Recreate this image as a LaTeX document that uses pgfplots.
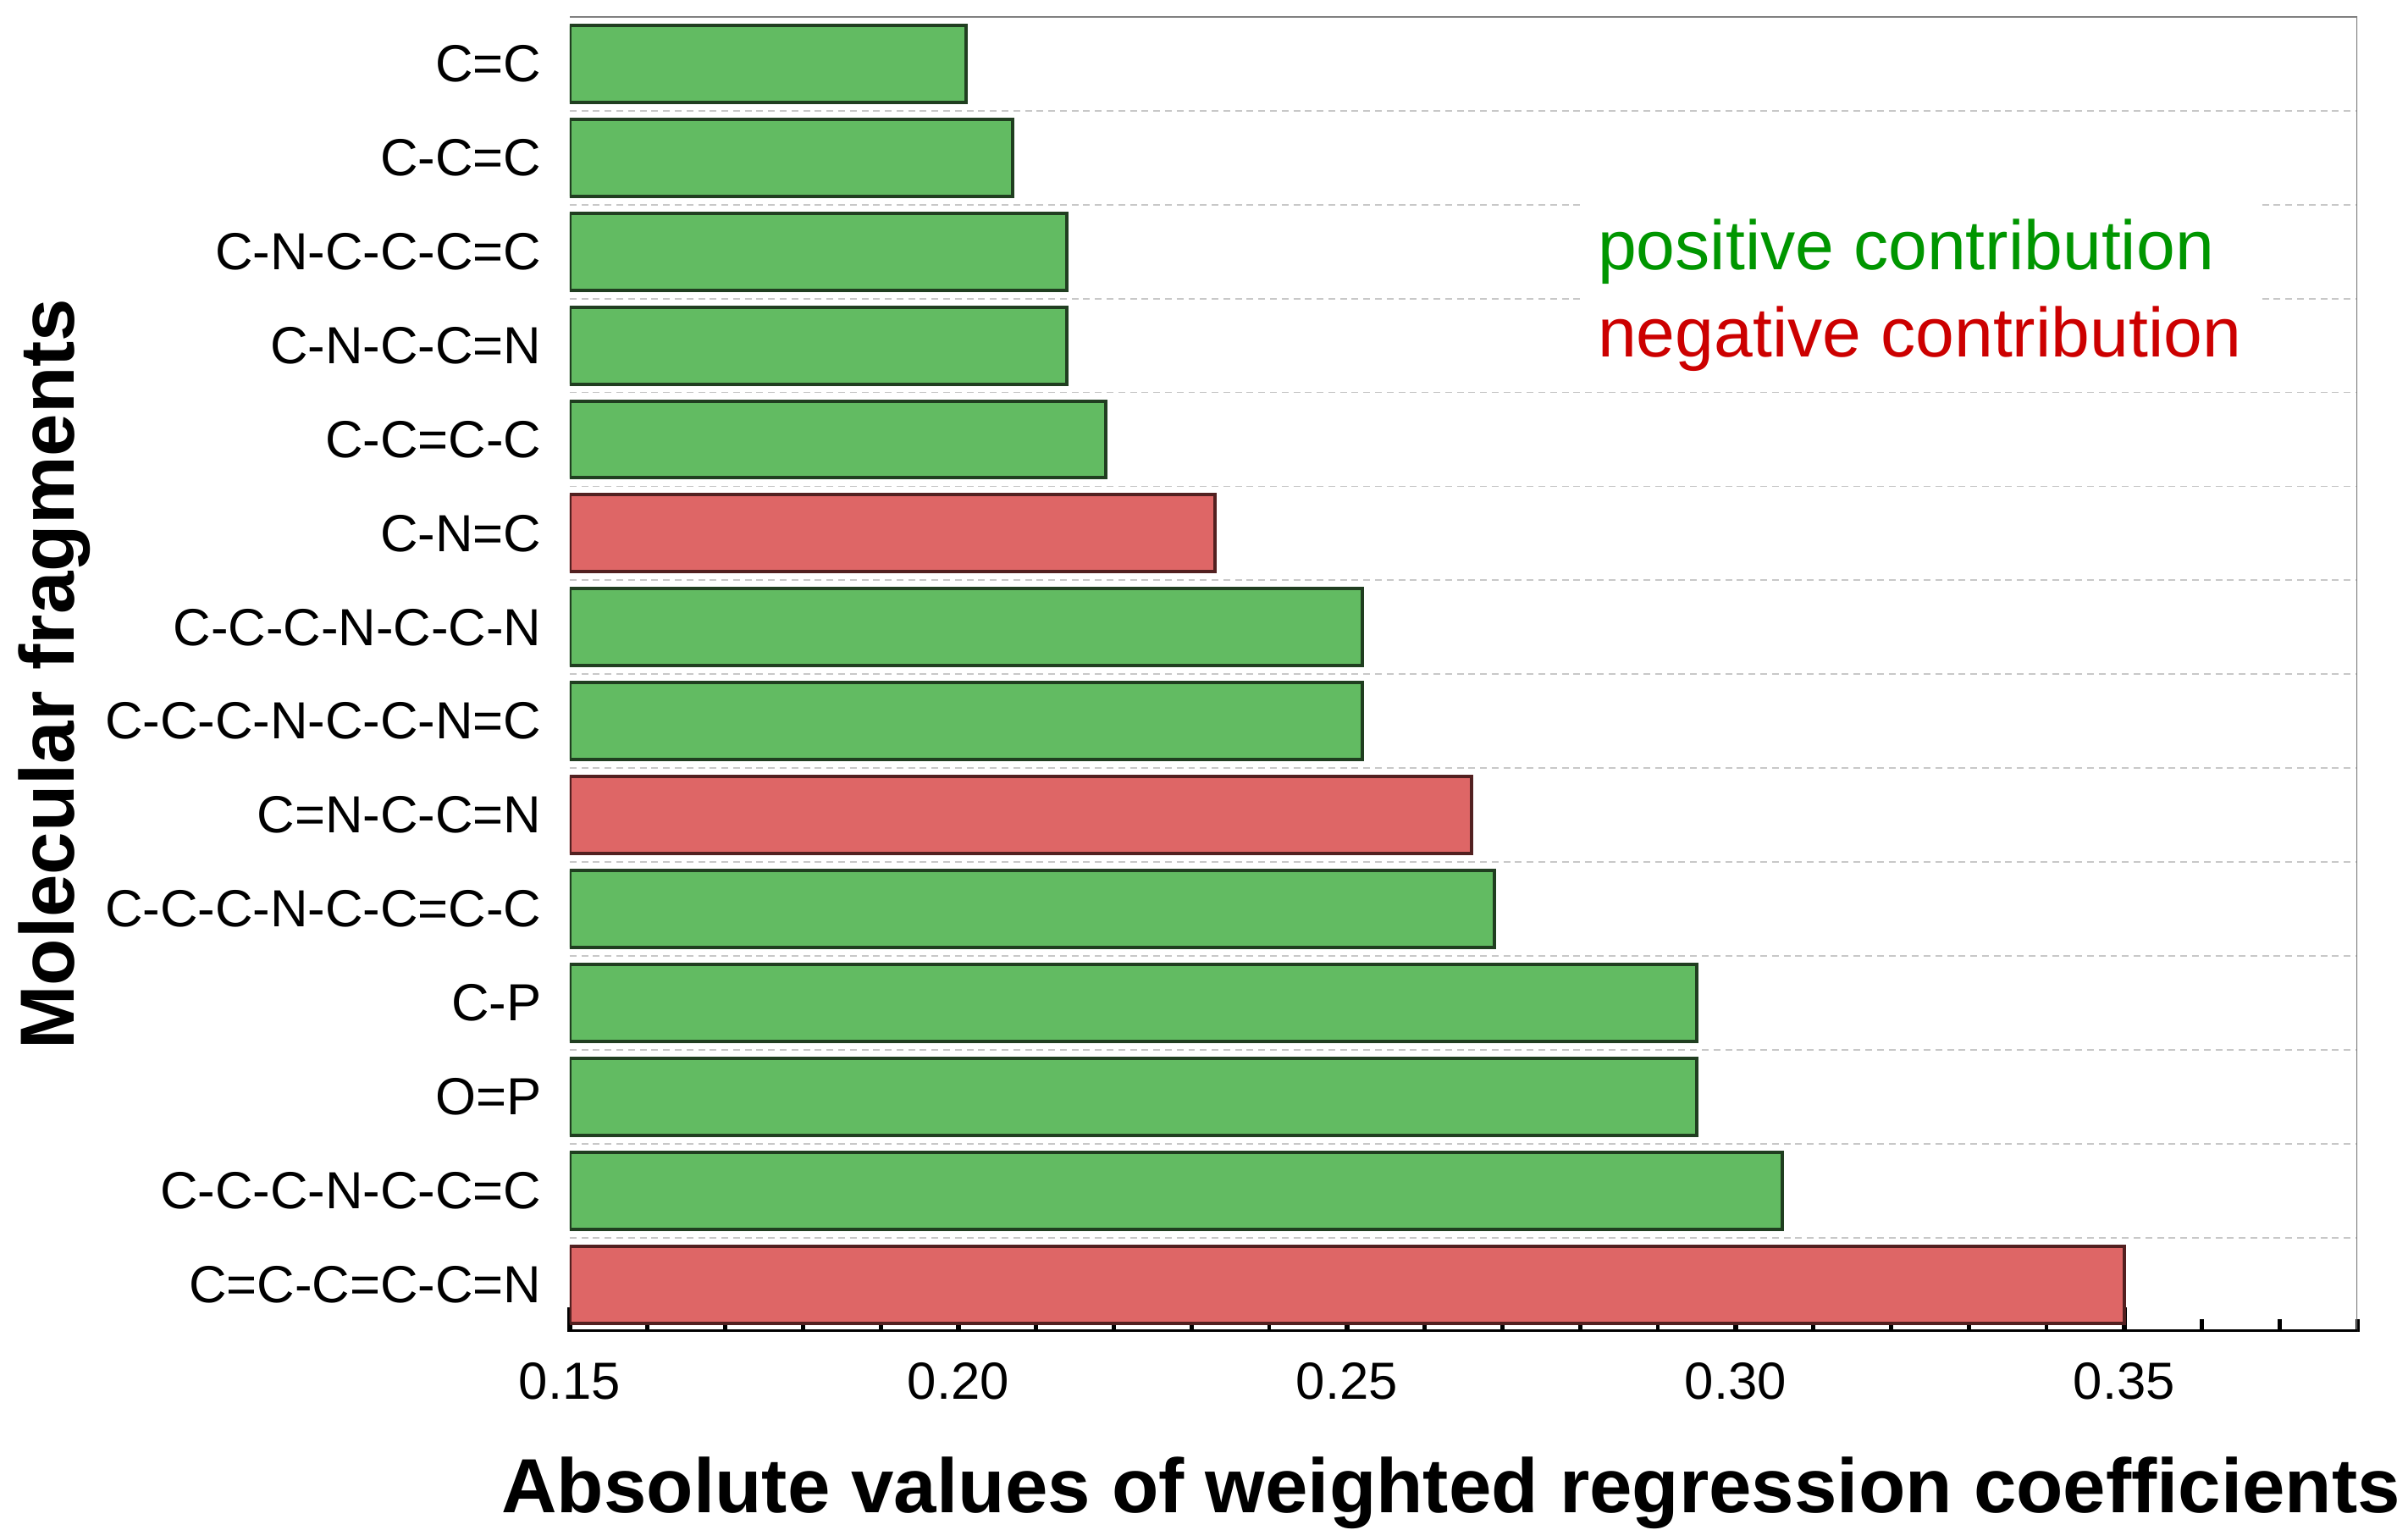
\documentclass[border=0pt]{standalone}
\usepackage{pgfplots}
\pgfplotsset{compat=1.18}
\usepackage{fontspec}
\setmainfont{Liberation Sans}

\definecolor{posfill}{RGB}{98,187,98}
\definecolor{posdraw}{RGB}{32,62,32}
\definecolor{negfill}{RGB}{222,102,102}
\definecolor{negdraw}{RGB}{82,32,32}
\definecolor{postext}{RGB}{0,150,0}
\definecolor{negtext}{RGB}{204,0,0}
\definecolor{gridgray}{RGB}{200,200,200}

\begin{document}
\begin{tikzpicture}
\path[use as bounding box] (0,0) rectangle (784pt,498pt);
\begin{axis}[
  at={(185.5pt,64.5pt)}, anchor=south west,
  scale only axis,
  width=582pt, height=428pt,
  xbar, bar width=0.82, bar shift=0pt,
  x coord trafo/.code={\pgfmathparse{#1-0.15}},
  x coord inv trafo/.code={\pgfmathparse{#1+0.15}},
  xmin=0.15, xmax=0.38,
  ymin=-0.5, ymax=13.5,
  y dir=reverse,
  axis line style={draw=none},
  xtick={0.15,0.2,0.25,0.3,0.35},
  xticklabels={0.15,0.20,0.25,0.30,0.35},
  minor xtick={0.16,0.17,0.18,0.19,0.21,0.22,0.23,0.24,0.26,0.27,0.28,0.29,0.31,0.32,0.33,0.34,0.36,0.37,0.38},
  xtick pos=left, xtick align=inside,
  major x tick style={black, line width=1.6pt},
  minor x tick style={black, line width=1.3pt},
  major tick length=8pt, minor tick length=4pt,
  ytick={0,...,13},
  yticklabels={C=C,C-C=C,C-N-C-C-C=C,C-N-C-C=N,C-C=C-C,C-N=C,C-C-C-N-C-C-N,C-C-C-N-C-C-N=C,C=N-C-C=N,C-C-C-N-C-C=C-C,C-P,O=P,C-C-C-N-C-C=C,C=C-C=C-C=N},
  minor ytick={0.5,1.5,...,12.5},
  major y tick style={draw=none},
  minor y tick style={draw=none},
  yminorgrids=true,
  minor y grid style={gridgray, line width=0.5pt, dash pattern=on 2.2pt off 1.6pt},
  ticklabel style={font=\fontsize{17}{20}\selectfont},
  yticklabel style={anchor=east, inner sep=0pt, xshift=-1pt},
  xticklabel style={anchor=north, inner sep=0pt, yshift=-10pt},
  xlabel={Absolute values of weighted regression coefficients},
  ylabel={Molecular fragments},
  label style={font=\fontsize{25}{30}\selectfont\bfseries},
  xlabel style={at={(axis description cs:0.493,-0.1379)}, anchor=base},
  ylabel style={at={(axis description cs:-0.2775,0.5)}, anchor=base, rotate=0},
]
\addplot[fill=posfill, draw=posdraw, line width=1.1pt] coordinates {
  (0.201,0) (0.207,1) (0.214,2) (0.214,3) (0.219,4)
  (0.252,6) (0.252,7) (0.269,9) (0.295,10) (0.295,11) (0.306,12)
};
\addplot[fill=negfill, draw=negdraw, line width=1.1pt] coordinates {
  (0.233,5) (0.266,8) (0.350,13)
};
\draw[gray, line width=0.8pt] (axis description cs:0,1) -- (axis description cs:1,1) -- (axis description cs:1,0);
\draw[black, line width=1.6pt] (axis description cs:0,0) -- (axis description cs:1,0);
\fill[white] (axis description cs:0.567,0.727) rectangle (axis description cs:0.945,0.896);
\node[anchor=base west, inner sep=0pt, text=postext, font=\fontsize{22.7}{28}\selectfont]
  at (axis description cs:0.5748,0.8078) {positive contribution};
\node[anchor=base west, inner sep=0pt, text=negtext, font=\fontsize{22.7}{28}\selectfont]
  at (axis description cs:0.5748,0.7412) {negative contribution};
\end{axis}
\end{tikzpicture}
\end{document}
